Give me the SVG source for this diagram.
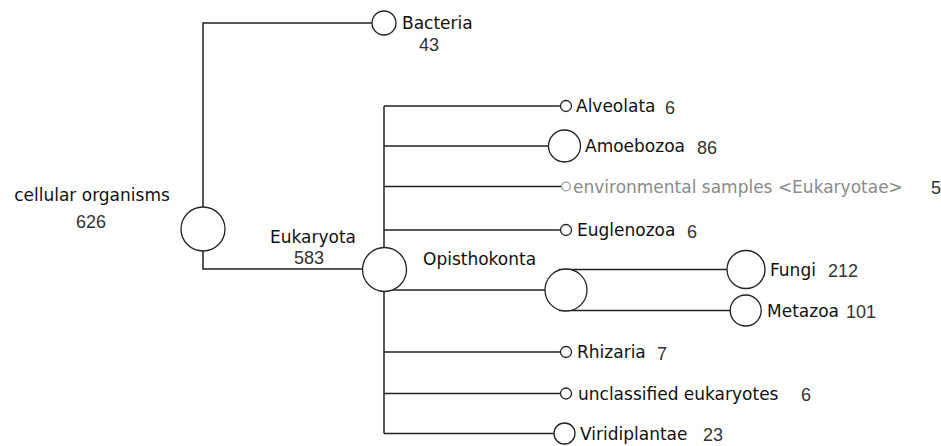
<svg xmlns="http://www.w3.org/2000/svg" width="941" height="446" viewBox="0 0 941 446">
<style>
.edge{stroke:#222;stroke-width:1.5;fill:none}
.node{fill:#fff;stroke:#222;stroke-width:1.3}
.nodeg{fill:#fff;stroke:#999;stroke-width:1.2}
.name{font-family:"DejaVu Sans",Verdana,sans-serif;font-size:17px;fill:#111}
.gname{font-family:"DejaVu Sans",Verdana,sans-serif;font-size:17px;fill:#8a8a8a}
.num{font-family:"Liberation Sans",Arial,sans-serif;font-size:18px;fill:#333}
</style>
<rect width="941" height="446" fill="#fff"/>
<g id="connectors">
<polyline class="edge" points="372,23 203,23 203,269 362,269"/>
<line class="edge" x1="384" y1="106" x2="384" y2="433.5"/>
<line class="edge" x1="384" y1="106" x2="560.5" y2="106"/>
<line class="edge" x1="384" y1="146" x2="548.5" y2="146"/>
<line class="edge" x1="384" y1="186.5" x2="561.5" y2="186.5"/>
<line class="edge" x1="384" y1="230" x2="560.5" y2="230"/>
<line class="edge" x1="384" y1="290" x2="545" y2="290"/>
<line class="edge" x1="559" y1="269.5" x2="727" y2="269.5"/>
<line class="edge" x1="559" y1="310.5" x2="730.5" y2="310.5"/>
<line class="edge" x1="384" y1="352" x2="560.5" y2="352"/>
<line class="edge" x1="384" y1="393.5" x2="560.5" y2="393.5"/>
<line class="edge" x1="384" y1="433.5" x2="554" y2="433.5"/>
</g>
<g id="n-cellular-organisms">
<circle class="node" cx="203" cy="229" r="22"/>
<text class="name" x="92" y="201" text-anchor="middle">cellular organisms</text>
<text class="num" x="91" y="228" text-anchor="middle">626</text>
</g>
<g id="n-bacteria">
<circle class="node" cx="384" cy="23" r="12"/>
<text class="name" x="402" y="29">Bacteria</text>
<text class="num" x="419" y="51">43</text>
</g>
<g id="n-eukaryota">
<circle class="node" cx="384.5" cy="269.5" r="22"/>
<text class="name" x="270" y="243">Eukaryota</text>
<text class="num" x="294" y="264">583</text>
</g>
<g id="n-alveolata">
<circle class="node" cx="566" cy="106" r="5.5"/>
<text class="name" x="576" y="112">Alveolata</text>
<text class="num" x="665" y="114">6</text>
</g>
<g id="n-amoebozoa">
<circle class="node" cx="564.5" cy="146" r="16"/>
<text class="name" x="585" y="152">Amoebozoa</text>
<text class="num" x="697" y="154">86</text>
</g>
<g id="n-environmental">
<circle class="nodeg" cx="566" cy="186.5" r="4.3"/>
<text class="gname" x="573" y="192.5">environmental samples &lt;Eukaryotae&gt;</text>
<text class="num" x="931" y="194">5</text>
</g>
<g id="n-euglenozoa">
<circle class="node" cx="566" cy="230" r="5.5"/>
<text class="name" x="577" y="236">Euglenozoa</text>
<text class="num" x="687" y="238">6</text>
</g>
<g id="n-opisthokonta">
<circle class="node" cx="566" cy="290" r="21"/>
<text class="name" x="423" y="264.5">Opisthokonta</text>
</g>
<g id="n-fungi">
<circle class="node" cx="746" cy="269.5" r="19"/>
<text class="name" x="770" y="275.5">Fungi</text>
<text class="num" x="828" y="277">212</text>
</g>
<g id="n-metazoa">
<circle class="node" cx="745.7" cy="310.5" r="15.5"/>
<text class="name" x="767" y="316.5">Metazoa</text>
<text class="num" x="846" y="318">101</text>
</g>
<g id="n-rhizaria">
<circle class="node" cx="566" cy="352" r="5.5"/>
<text class="name" x="577" y="358">Rhizaria</text>
<text class="num" x="657" y="360">7</text>
</g>
<g id="n-unclassified">
<circle class="node" cx="566" cy="393.5" r="5.5"/>
<text class="name" x="578" y="399.5">unclassified eukaryotes</text>
<text class="num" x="801" y="401">6</text>
</g>
<g id="n-viridiplantae">
<circle class="node" cx="564.5" cy="433.5" r="10.5"/>
<text class="name" x="580" y="439.5">Viridiplantae</text>
<text class="num" x="703" y="441">23</text>
</g>
</svg>
